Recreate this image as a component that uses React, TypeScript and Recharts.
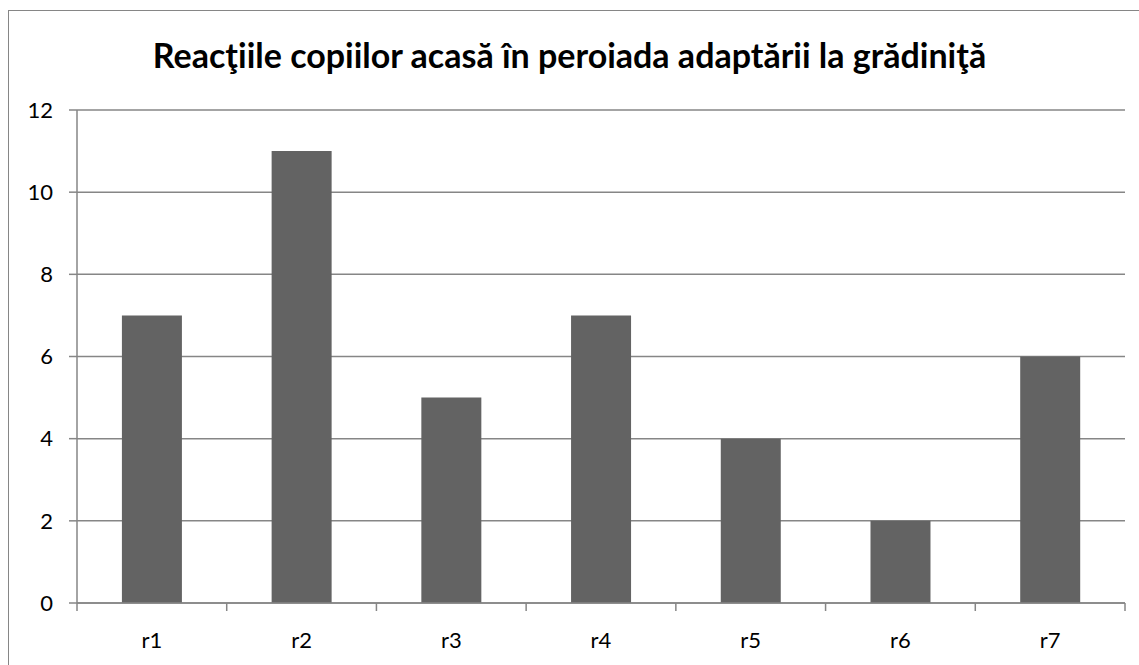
import React from "react";
import { BarChart, Bar, XAxis, YAxis, CartesianGrid } from "recharts";

const categories = ["r1", "r2", "r3", "r4", "r5", "r6", "r7"];
const values = [7, 11, 5, 7, 4, 2, 6];
const yTicks = [0, 2, 4, 6, 8, 10, 12];
const title = "Reacţiile copiilor acasă în peroiada adaptării la grădiniţă";

const data = categories.map((c, i) => ({ name: c, value: values[i] }));

const FONT = "Lato, 'Open Sans', sans-serif";
const GRID = "#868686";

const CatTick = (props: any) => {
  const { x, y, payload, index } = props;
  const off = payload && typeof payload.offset === "number" ? payload.offset : 0;
  const last = index === categories.length - 1;
  return (
    <g>
      {off > 0 && (
        <line x1={x - off} x2={x - off} y1={y} y2={y + 8} stroke={GRID} strokeWidth={1.5} />
      )}
      {off > 0 && last && (
        <line x1={x + off} x2={x + off} y1={y} y2={y + 8} stroke={GRID} strokeWidth={1.5} />
      )}
      <text x={x} y={y + 29} dy="0.71em" textAnchor="middle" fill="#000" fontSize={22} fontFamily={FONT}>
        {payload.value}
      </text>
    </g>
  );
};

export default function App() {
  return (
    <div style={{ position: "fixed", left: 0, top: 0, width: 1139, height: 665, overflow: "hidden", background: "#fff" }}>
      <div
        style={{
          position: "absolute",
          left: 8,
          top: 10,
          width: 1200,
          height: 700,
          border: "1.5px solid #868686",
        }}
      />
      <div
        style={{
          position: "absolute",
          left: 0,
          top: 34,
          width: 1139,
          textAlign: "center",
          fontFamily: FONT,
          fontWeight: 700,
          fontSize: 34,
          lineHeight: "42px",
          color: "#000",
        }}
      >
        {title}
      </div>
      <div style={{ position: "absolute", left: 0, top: 0 }}>
        <BarChart
          width={1139}
          height={665}
          data={data}
          margin={{ top: 110, right: 14, left: 17, bottom: 22 }}
          barCategoryGap="30%"
        >
          <CartesianGrid vertical={false} stroke={GRID} strokeWidth={1.5} />
          <XAxis
            dataKey="name"
            height={40}
            interval={0}
            axisLine={{ stroke: GRID, strokeWidth: 1.5 }}
            tickLine={false}
            tickSize={0}
            tickMargin={0}
            tick={<CatTick />}
          />
          <YAxis
            width={60}
            domain={[0, 12]}
            ticks={yTicks}
            interval={0}
            axisLine={{ stroke: GRID, strokeWidth: 1.5 }}
            tickLine={{ stroke: GRID, strokeWidth: 1.5 }}
            tickSize={8}
            tickMargin={16}
            tick={{ fill: "#000", fontSize: 22, fontFamily: FONT }}
          />
          <Bar dataKey="value" fill="#636363" isAnimationActive={false} />
        </BarChart>
      </div>
    </div>
  );
}
